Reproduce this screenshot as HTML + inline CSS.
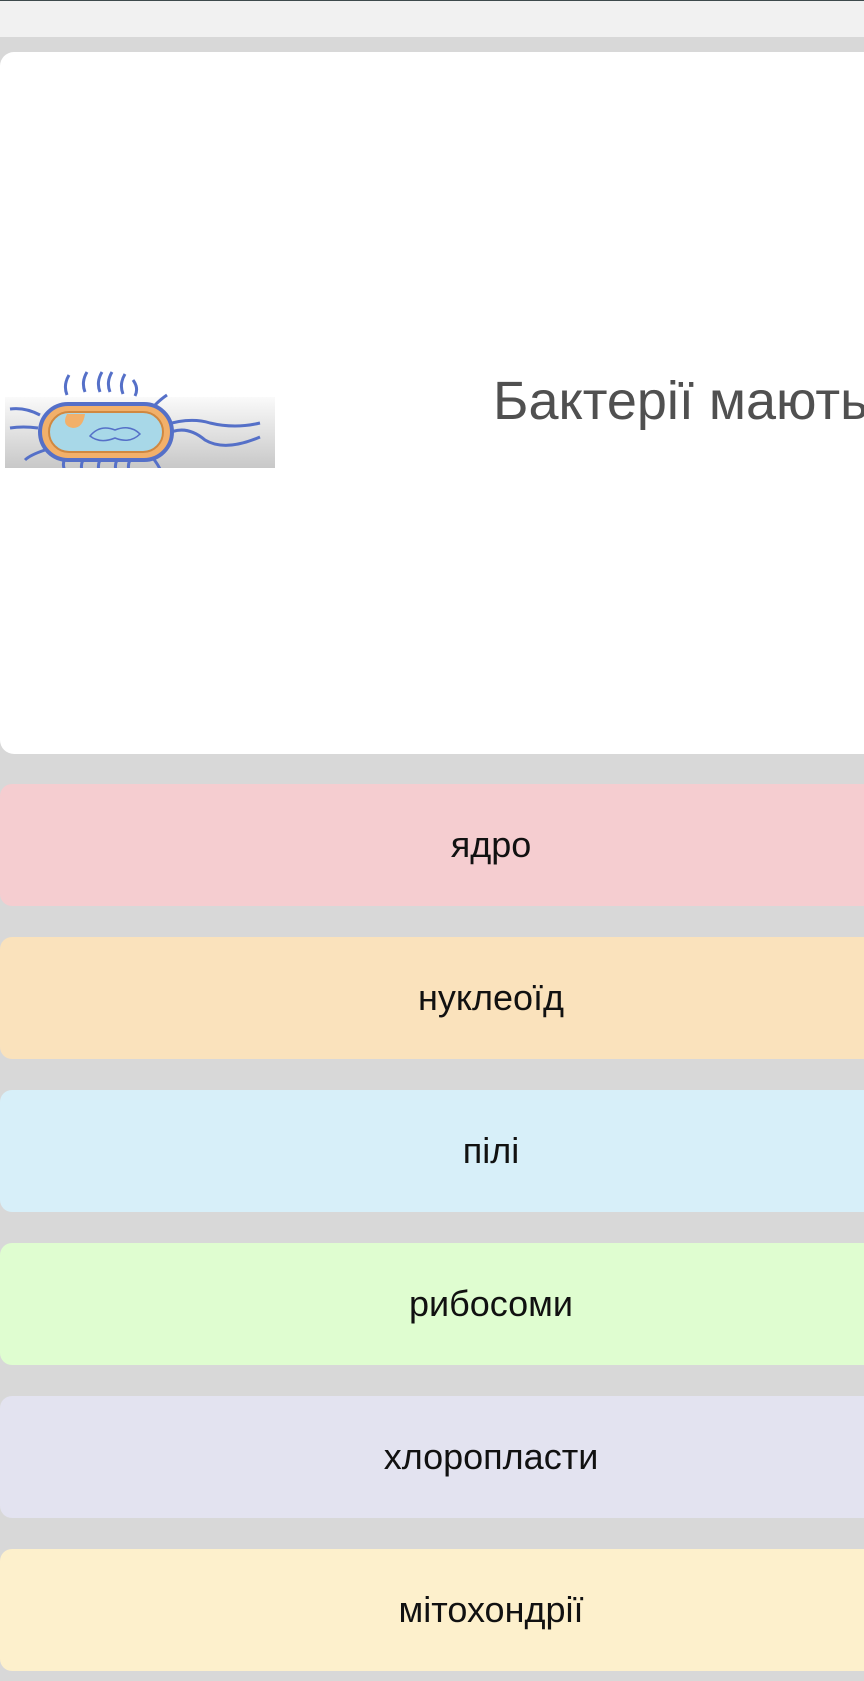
<!DOCTYPE html>
<html><head><meta charset="utf-8"><style>
body{margin:0;width:864px;height:1681px;background:#d8d8d8;position:relative;overflow:hidden;font-family:"Liberation Sans","DejaVu Sans",sans-serif}
.top{position:absolute;left:0;top:0;width:864px;height:37px;background:#f1f1f1;border-top:1px solid #3e4a4c;box-sizing:border-box}
.card{position:absolute;left:0;top:52px;width:880px;height:702px;background:#fff;border-radius:14px}
.q{position:absolute;left:493px;top:318px;font-size:54px;color:#505050;white-space:nowrap}
.opt{position:absolute;left:0;width:982px;height:122px;border-radius:12px;display:flex;align-items:center;justify-content:center;box-sizing:border-box;font-size:36px;color:#111}
</style></head><body>
<div class="top"></div>
<div class="card">
<svg style="position:absolute;left:5px;top:318px" width="270" height="98" viewBox="0 0 270 98">
<defs><linearGradient id="g" x1="0" y1="0" x2="0" y2="1"><stop offset="0" stop-color="#fafafa"/><stop offset="1" stop-color="#c8c8c8"/></linearGradient></defs>
<rect x="0" y="27" width="270" height="71" fill="url(#g)"/>
<g fill="none" stroke="#5570c8" stroke-width="3">
<path d="M62 25 q-4 -10 2 -20M80 22 q-4 -10 2 -20M95 22 q-4 -10 2 -20M105 22 q-4 -10 2 -20M118 24 q-4 -10 2 -20M130 26 q4 -8 -2 -16M150 35 q6 -6 12 -10"/>
<path d="M60 88 q-4 8 2 16M78 90 q-4 8 2 16M95 90 q-4 8 2 16M112 90 q-4 8 2 16M125 90 q-4 8 2 16M145 85 q6 6 10 14"/>
<path d="M35 45 q-15 -8 -30 -6M33 58 q-15 -2 -28 0M40 80 q-15 5 -20 10"/>
<path d="M160 55 q25 -8 45 -2 q25 6 50 0M160 65 q20 -12 40 5 q20 12 55 -3"/>
</g>
<rect x="35" y="34" width="132" height="56" rx="28" fill="#f2b06a" stroke="#5570c8" stroke-width="4"/>
<rect x="44" y="42" width="114" height="40" rx="20" fill="#a8d8e8" stroke="#d08840" stroke-width="2"/>
<path d="M62 44 q-6 12 6 14 q10 0 12 -14z" fill="#f2b06a"/>
<path d="M85 66 q10 -12 25 -6 q15 -6 25 4 q-10 10 -25 4 q-15 6 -25 -2z" fill="none" stroke="#5570c8" stroke-width="1.5"/>
</svg>
<div class="q">Бактерії мають</div>
</div>
<div class="opt" style="top:784px;background:#f5cdd0">ядро</div>
<div class="opt" style="top:937px;background:#fae2bc">нуклеоїд</div>
<div class="opt" style="top:1090px;background:#d7eff9">пілі</div>
<div class="opt" style="top:1243px;background:#dffdd0">рибосоми</div>
<div class="opt" style="top:1396px;background:#e3e3f0">хлоропласти</div>
<div class="opt" style="top:1549px;background:#fdf0cc">мітохондрії</div>
</body></html>
